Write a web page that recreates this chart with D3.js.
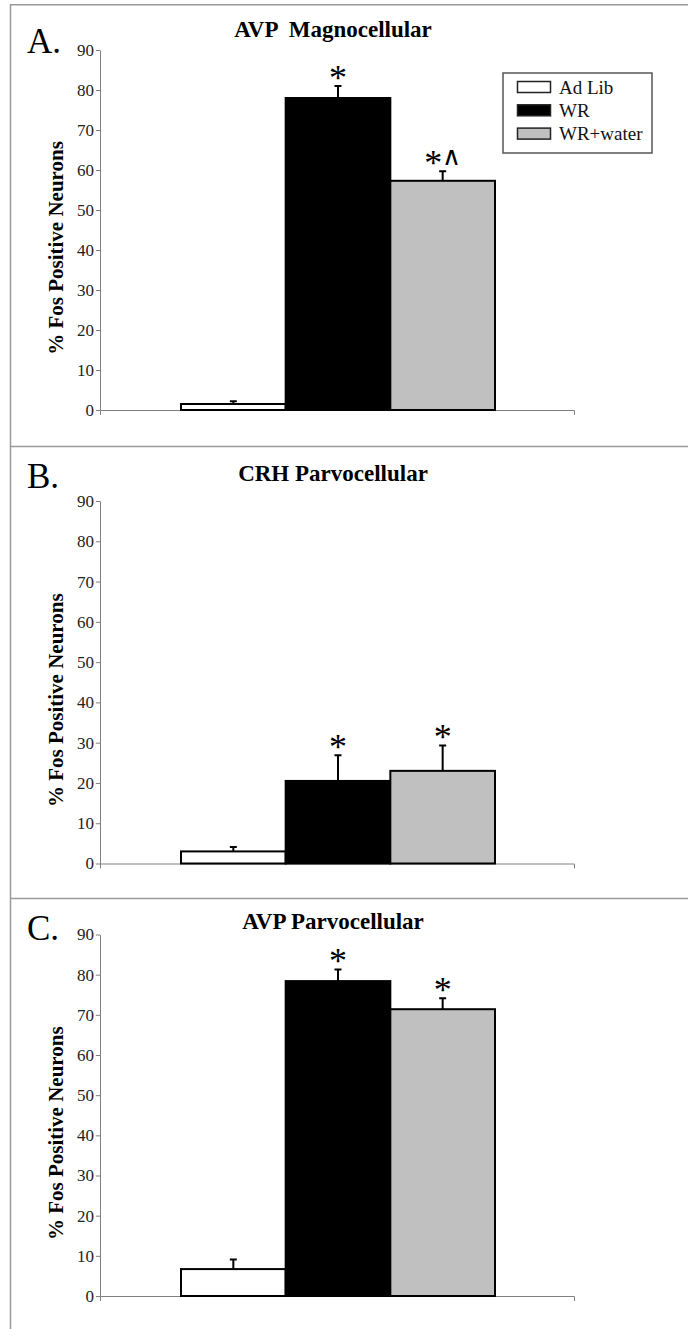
<!DOCTYPE html>
<html lang="en">
  <head>
    <meta charset="UTF-8" />
    <title>Fos positive neurons</title>
    <script src="https://cdnjs.cloudflare.com/ajax/libs/d3/7.8.5/d3.min.js"></script>
    <style>
      body { margin: 0; background: #fff; }
      text { font-family: "Liberation Serif", "Times New Roman", serif; }
    </style>
  </head>
  <body>
    <div id="chart"></div>
    <script>
    // groups and legend
    const groups = ["Ad Lib", "WR", "WR+water"];
    const groupFill = ["#ffffff", "#000000", "#c0c0c0"];
    const yTicks = [0, 10, 20, 30, 40, 50, 60, 70, 80, 90];

    // panel texts
    const panelLetters = ["A.", "B.", "C."];
    const panelTitles = ["AVP  Magnocellular", "CRH Parvocellular", "AVP Parvocellular"];

    // % Fos positive neurons, mean and error
    const avpMagnoMean = [1.5, 78.0, 57.3];
    const avpMagnoErr = [0.7, 3.0, 2.4];
    const avpMagnoSig = ["", "*", "*^"];

    const crhParvoMean = [3.0, 20.5, 23.0];
    const crhParvoErr = [1.1, 6.4, 6.3];
    const crhParvoSig = ["", "*", "*"];

    const avpParvoMean = [6.7, 78.4, 71.4];
    const avpParvoErr = [2.4, 2.9, 2.7];
    const avpParvoSig = ["", "*", "*"];

    const W = 688, H = 1329;
    const svg = d3.select("#chart").append("svg")
      .attr("width", W).attr("height", H);

    // frame lines
    const frame = svg.append("g").attr("stroke", "#9a9a9a").attr("stroke-width", 1.5).attr("fill", "none");
    frame.append("path").attr("d", "M10.5," + H + "V4.75H" + W);
    frame.append("line").attr("x1", 10.5).attr("x2", W).attr("y1", 446.5).attr("y2", 446.5);
    frame.append("line").attr("x1", 10.5).attr("x2", W).attr("y1", 898.5).attr("y2", 898.5);

    // layout of each panel (top of axis = 90, bottom = 0)
    const panels = [
      {mean: avpMagnoMean, err: avpMagnoErr, sig: avpMagnoSig, top: 50, zero: 410, titleY: 37, letterY: 53, legend: true},
      {mean: crhParvoMean, err: crhParvoErr, sig: crhParvoSig, top: 501, zero: 863.5, titleY: 481, letterY: 488, legend: false},
      {mean: avpParvoMean, err: avpParvoErr, sig: avpParvoSig, top: 934.5, zero: 1296, titleY: 929, letterY: 940, legend: false}
    ];

    const axisX0 = 100, axisX1 = 574;
    const x = d3.scaleBand().domain(groups).range([181, 495]).padding(0);
    const xAxisScale = d3.scaleBand().domain([""]).range([axisX0, axisX1]);

    panels.forEach(function (p, k) {
      const g = svg.append("g");
      const y = d3.scaleLinear().domain([0, 90]).range([p.zero, p.top]);

      // letter + title
      g.append("text")
        .attr("x", 27).attr("y", p.letterY)
        .style("font-size", "35px")
        .text(panelLetters[k]);
      g.append("text")
        .attr("x", 333).attr("y", p.titleY)
        .attr("text-anchor", "middle")
        .style("font-size", "23px").style("font-weight", "bold")
        .style("white-space", "pre")
        .text(panelTitles[k]);

      // y axis
      const ya = g.append("g")
        .attr("transform", "translate(" + axisX0 + ",0)")
        .attr("font-family", null)
        .call(d3.axisLeft(y).tickValues(yTicks).tickSize(4).tickSizeOuter(0).tickPadding(2));
      ya.select(".domain").attr("stroke", "#808080");
      ya.selectAll(".tick line").attr("stroke", "#808080");
      ya.selectAll(".tick text")
        .attr("fill", "#222")
        .style("font-family", "'Liberation Serif', serif")
        .style("font-size", "17px");

      // x axis (no labels, small end ticks)
      const xa = g.append("g")
        .attr("transform", "translate(0," + p.zero + ")")
        .call(d3.axisBottom(xAxisScale).tickValues([]).tickSizeOuter(5));
      xa.select(".domain").attr("stroke", "#808080");

      // y label
      g.append("text")
        .attr("transform", "translate(63," + ((p.top + p.zero) / 2 + 18) + ") rotate(-90)")
        .attr("text-anchor", "middle")
        .style("font-size", "21px").style("font-weight", "bold")
        .text("% Fos Positive Neurons");

      // bars
      g.selectAll(".bar")
        .data(groups)
        .join("rect")
        .attr("class", "bar")
        .attr("x", d => x(d))
        .attr("width", x.bandwidth())
        .attr("y", (d, i) => y(p.mean[i]))
        .attr("height", (d, i) => y(0) - y(p.mean[i]))
        .attr("fill", (d, i) => groupFill[i])
        .attr("stroke", "#000")
        .attr("stroke-width", 2);

      // error bars (upper half only)
      const cx = d => x(d) + x.bandwidth() / 2;
      g.selectAll(".err")
        .data(groups)
        .join("path")
        .attr("class", "err")
        .attr("d", (d, i) => {
          const top = y(p.mean[i] + p.err[i]);
          return "M" + cx(d) + "," + y(p.mean[i]) + "V" + top +
            "M" + (cx(d) - 3.5) + "," + top + "H" + (cx(d) + 3.5);
        })
        .attr("fill", "none")
        .attr("stroke", "#000")
        .attr("stroke-width", 2);

      // significance marks
      const sig = g.selectAll(".sig")
        .data(groups)
        .join("text")
        .attr("class", "sig")
        .attr("x", d => cx(d))
        .attr("y", (d, i) => y(p.mean[i] + p.err[i]) + 4)
        .attr("text-anchor", "middle")
        .style("font-size", "36px");
      sig.each(function (d, i) {
        const s = p.sig[i];
        const t = d3.select(this);
        if (s.indexOf("*") >= 0) t.append("tspan").text("*");
        if (s.indexOf("^") >= 0) {
          t.append("tspan")
            .attr("dy", -10)
            .attr("dx", 0)
            .style("font-family", "'DejaVu Sans', sans-serif")
            .style("font-size", "26px")
            .style("font-weight", "200")
            .text("\u2227");
        }
      });

      if (p.legend) {
        const lg = g.append("g").attr("transform", "translate(503,73)");
        lg.append("rect")
          .attr("width", 149).attr("height", 80)
          .attr("fill", "#fff").attr("stroke", "#555").attr("stroke-width", 1.5);
        const item = lg.selectAll(".item")
          .data(groups)
          .join("g")
          .attr("class", "item")
          .attr("transform", (d, i) => "translate(0," + (14 + i * 23.3) + ")");
        item.append("rect")
          .attr("x", 14.5).attr("y", -5.5)
          .attr("width", 33).attr("height", 11)
          .attr("fill", (d, i) => groupFill[i])
          .attr("stroke", "#222").attr("stroke-width", 1.5);
        item.append("text")
          .attr("x", 56).attr("y", 6.5)
          .style("font-size", "19px")
          .attr("fill", "#111")
          .text(d => d);
      }
    });
    </script>
  </body>
</html>
